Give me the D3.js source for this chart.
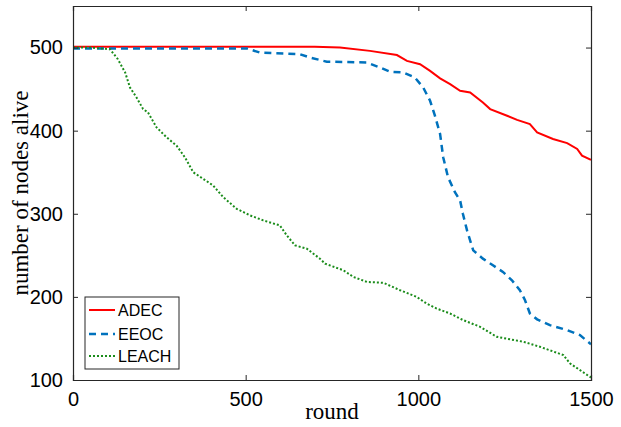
<!DOCTYPE html>
<html><head><meta charset="utf-8">
<script src="https://cdn.jsdelivr.net/npm/d3@7"></script>
<style>body{margin:0;background:#fff}</style>
</head><body>
<svg id="c" width="621" height="427"></svg>
<script>
const adecRounds = [0,100,200,300,400,500,600,657,700,773,860,938,967,1005,1034,1063,1092,1121,1150,1187,1208,1257,1286,1323,1344,1390,1431,1460,1474,1500];
const adecValues = [501,501,501,501,501,501,501,501,501,500,496,491,484,480,472,463,456,448,446,434,426,418,413,408,398,390,385,378,370,365];
const eeocRounds = [0,100,200,300,400,503,541,657,686,735,851,889,918,956,990,1014,1034,1048,1063,1072,1086,1106,1121,1129,1141,1159,1187,1216,1245,1271,1294,1309,1323,1344,1381,1431,1468,1500];
const eeocValues = [499,499,499,499,499,499,494,492,488,483,482,476,471,470,464,452,436,418,396,368,344,326,316,300,280,256,246,238,230,220,208,196,180,173,166,160,154,143];
const leachRounds = [0,50,107,130,151,165,184,203,217,242,271,300,324,348,377,406,435,474,513,551,599,619,643,677,715,730,783,812,851,899,947,995,1024,1053,1092,1130,1179,1227,1304,1352,1420,1439,1500];
const leachValues = [500,500,498,486,470,452,440,426,422,404,392,382,368,350,342,334,320,306,298,292,286,274,262,258,246,240,232,224,218,217,208,200,192,186,180,172,164,152,146,140,130,120,103];
const xTicks = [0,500,1000,1500];
const yTicks = [100,200,300,400,500];
const seriesNames = ["ADEC","EEOC","LEACH"];
const seriesColors = ["#ff0000","#0072bd","#1a8c1a"];
const seriesDash = [null,"7,5","2,2"];
const seriesWidth = [2,2.5,2];

const svg = d3.select("#c");
const L=73,R=591,T=6,B=380;
const x = d3.scaleLinear().domain([0,1500]).range([L,R]);
const y = d3.scaleLinear().domain([100,550]).range([B,T]);
const axisColor="#262626";

const series = [
  adecRounds.map((r,i)=>[r,adecValues[i]]),
  eeocRounds.map((r,i)=>[r,eeocValues[i]]),
  leachRounds.map((r,i)=>[r,leachValues[i]])
];
const line = d3.line().x(d=>x(d[0])).y(d=>y(d[1]));
svg.append("clipPath").attr("id","clip").append("rect").attr("x",L).attr("y",T).attr("width",R-L).attr("height",B-T);
const g = svg.append("g").attr("clip-path","url(#clip)");
series.forEach((s,i)=>{
  g.append("path").attr("d",line(s)).attr("fill","none")
   .attr("stroke",seriesColors[i]).attr("stroke-width",seriesWidth[i])
   .attr("stroke-dasharray",seriesDash[i]);
});

// axes
const font = "'Liberation Sans', Arial, sans-serif";
const ax = svg.append("g").attr("transform",`translate(0,${B})`)
  .call(d3.axisBottom(x).tickValues(xTicks).tickSize(-5).tickPadding(12).tickFormat(d3.format("d")));
const axT = svg.append("g").attr("transform",`translate(0,${T})`)
  .call(d3.axisTop(x).tickValues(xTicks).tickSize(-5).tickFormat(""));
const ay = svg.append("g").attr("transform",`translate(${L},0)`)
  .call(d3.axisLeft(y).tickValues(yTicks).tickSize(-5).tickPadding(10).tickFormat(d3.format("d")));
const ayR = svg.append("g").attr("transform",`translate(${R},0)`)
  .call(d3.axisRight(y).tickValues(yTicks).tickSize(-5).tickFormat(""));
[ax,axT,ay,ayR].forEach(a=>{
  a.selectAll("path").attr("stroke",axisColor).attr("stroke-width",1.2);
  a.selectAll("line").attr("stroke",axisColor).attr("stroke-width",1);
  a.selectAll("text").attr("fill","#000").style("font-family",font).style("font-size","20px");
});
ax.selectAll(".tick text").attr("dy","0.71em");

// axis labels
svg.append("text").attr("x",(L+R)/2).attr("y",419).attr("text-anchor","middle")
  .style("font-family","'Liberation Serif','Times New Roman',serif").style("font-size","23px").text("round");
svg.append("text").attr("transform",`translate(28,${(T+B)/2}) rotate(-90)`).attr("text-anchor","middle")
  .style("font-family","'Liberation Serif','Times New Roman',serif").style("font-size","23px").text("number of nodes alive");

// legend
const lg = svg.append("g");
lg.append("rect").attr("x",85).attr("y",297).attr("width",94).attr("height",72)
  .attr("fill","#fff").attr("stroke",axisColor).attr("stroke-width",1);
const ly=[310,334,356];
seriesNames.forEach((n,i)=>{
  lg.append("line").attr("x1",89).attr("x2",115).attr("y1",ly[i]).attr("y2",ly[i])
    .attr("stroke",seriesColors[i]).attr("stroke-width",seriesWidth[i]).attr("stroke-dasharray",seriesDash[i]);
  lg.append("text").attr("x",118).attr("y",ly[i]+6).style("font-family",font).style("font-size","16px").text(n);
});
</script>
</body></html>
